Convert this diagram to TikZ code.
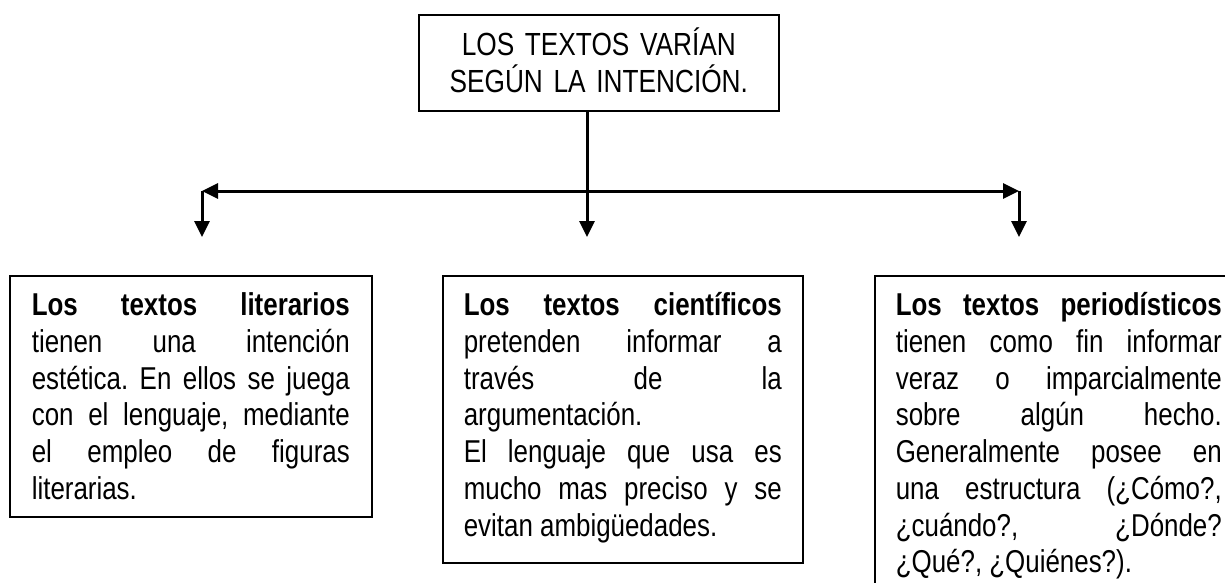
\documentclass[tikz,border=0pt]{standalone}
\usepackage{fontspec}
\setmainfont{Liberation Sans}[FakeStretch=0.82]
\usetikzlibrary{arrows.meta}
\hyphenpenalty=10000
\tolerance=10000
\frenchspacing

\begin{document}
\begin{tikzpicture}[x=1pt,y=-1pt,
  >={Triangle[length=16pt,width=15pt]},
  flecha/.style={->,line width=3pt},
  titulo/.style={draw,line width=1.6pt,anchor=north west,align=center,
    text width=340pt,inner xsep=10pt,inner ysep=0pt,text height=41pt,text depth=55pt,
    font=\fontsize{32}{37}\selectfont},
  caja/.style={draw,line width=1.6pt,anchor=north west,align=justify,
    inner ysep=0pt,text height=40pt,font=\fontsize{31.6}{36.7}\selectfont}]
\useasboundingbox (0,0) rectangle (1225,583);

\node[titulo] (intencion) at (418,14) {LOS TEXTOS VARÍAN\\SEGÚN LA INTENCIÓN.};

\coordinate (ramaI)  at (202,191);
\coordinate (ramaC)  at (587,191);
\coordinate (ramaD)  at (1019,191);
\coordinate (puntaI) at (202,237);
\coordinate (puntaC) at (587,237);
\coordinate (puntaD) at (1019,237);

\draw[flecha] (intencion.south -| ramaC) -- (puntaC);
\draw[flecha,<->] (ramaI) -- (ramaD);
\draw[flecha] (ramaI) -- (puntaI);
\draw[flecha] (ramaD) -- (puntaD);

% las tres cajas
\node[caja,text width=318pt,inner xsep=22pt,text depth=201pt] (literarios) at (9,275)
  {\textbf{Los textos literarios}\linebreak tienen una intención\linebreak
   estética. En ellos se juega\linebreak con el lenguaje, mediante\linebreak
   el empleo de figuras\linebreak literarias.};
\node[caja,text width=318pt,inner xsep=21pt,text depth=247pt] (cientificos) at (442,275)
  {\textbf{Los textos científicos}\linebreak pretenden informar a\linebreak
   través de la\linebreak argumentación.\par
   El lenguaje que usa es\linebreak mucho mas preciso y se\linebreak
   evitan ambigüedades.};
\node[caja,text width=326pt,inner xsep=21pt,text depth=300pt] (periodisticos) at (874,275)
  {\textbf{Los textos periodísticos}\linebreak tienen como fin informar\linebreak
   veraz o imparcialmente\linebreak sobre algún hecho.\linebreak
   Generalmente posee en\linebreak una estructura (¿Cómo?,\linebreak
   ¿cuándo?, ¿Dónde?\linebreak ¿Qué?, ¿Quiénes?).};

\end{tikzpicture}
\end{document}
